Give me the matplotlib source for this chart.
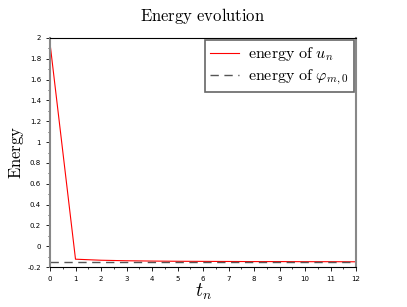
import numpy as np
import matplotlib.pyplot as plt
from matplotlib.ticker import MultipleLocator

plt.rcParams['mathtext.fontset'] = 'cm'

# data
t = [0, 1, 2, 3, 4, 5, 6, 7, 8, 9, 10, 11, 12]
energy_u = [1.95, -0.125, -0.135, -0.14, -0.143, -0.145, -0.146, -0.147, -0.148, -0.148, -0.149, -0.149, -0.15]
energy_phi = [-0.15] * len(t)

fig = plt.figure(figsize=(4.07, 3.07), dpi=100)
ax = fig.add_axes([50 / 407, 40 / 307, 306 / 407, 229 / 307])

ax.plot(t, energy_u, color='red', lw=0.8, label=r'$\mathrm{energy\ of\ }u_n$')
ax.plot(t, energy_phi, color='#555555', lw=1.0, ls=(0, (6, 4)),
        label=r'$\mathrm{energy\ of\ }\varphi_{m,0}$')

ax.set_xlim(0, 12)
ax.set_ylim(-0.2, 2)
ax.xaxis.set_major_locator(MultipleLocator(1))
ax.xaxis.set_minor_locator(MultipleLocator(0.5))
ax.yaxis.set_major_locator(MultipleLocator(0.2))
ax.yaxis.set_minor_locator(MultipleLocator(0.1))
ax.set_yticklabels([f'{v:g}' for v in np.round(ax.get_yticks(), 1)])
ax.tick_params(labelsize=5, length=3, width=0.6, direction='out', top=False, right=False)
ax.tick_params(which='minor', length=1.5, width=0.5)

for side in ['left', 'right']:
    ax.spines[side].set_color('#888888')
    ax.spines[side].set_linewidth(1.5)
for side in ['top', 'bottom']:
    ax.spines[side].set_color('black')
    ax.spines[side].set_linewidth(0.8)

ax.set_title(r'$\mathrm{Energy\ evolution}$', fontsize=12, pad=12)
fig.text(203 / 407, 1 - 292 / 307, r'$t_n$', fontsize=14, ha='center', va='center')
fig.text(16 / 407, 1 - 152 / 307, r'$\mathrm{Energy}$', fontsize=12,
         ha='center', va='center', rotation=90)

leg = ax.legend(loc='upper right', fontsize=11.5, fancybox=False, framealpha=1,
                borderaxespad=0.15, handlelength=1.8, labelspacing=0.3,
                handletextpad=0.6, borderpad=0.3)
leg.get_frame().set_edgecolor('#666666')
leg.get_frame().set_linewidth(1.2)

fig.savefig('out.png', dpi=100)
